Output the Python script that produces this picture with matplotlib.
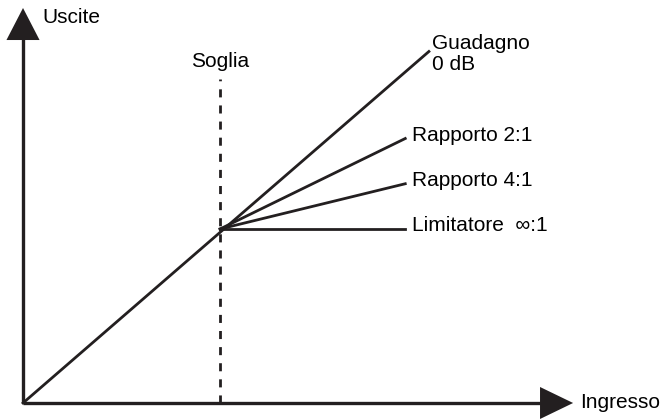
import matplotlib.pyplot as plt

plt.rcParams['font.family'] = ['Liberation Sans', 'DejaVu Sans']

# Curve data (input / output levels, arbitrary units)
threshold = 50
gain_end = (103, 101)
ratio_end_x = 97
ratio_names = ['Rapporto 2:1', 'Rapporto 4:1', 'Limitatore  \u221e:1']
ratio_end_y = [76, 63, 50]
x_axis_len = 139.6
y_axis_len = 113.5

ink = '#231f20'
fs = 15

fig = plt.figure(figsize=(6.61, 4.19), dpi=100)
ax = fig.add_axes([0, 0, 1, 1])
ax.set_xlim(-5.84, 161.9)
ax.set_ylim(-4.6, 115.8)
ax.axis('off')

# Axes with arrowheads
ax.plot([0, x_axis_len - 8], [0, 0], color=ink, lw=2.4, solid_capstyle='butt')
ax.plot([0, 0], [0, y_axis_len - 8], color=ink, lw=2.4, solid_capstyle='butt')
ax.fill([x_axis_len - 8.4, x_axis_len, x_axis_len - 8.4], [-4.6, 0, 4.6], color=ink, lw=0)
ax.fill([-4.2, 0, 4.2], [y_axis_len - 9.2, y_axis_len, y_axis_len - 9.2], color=ink, lw=0)

# Threshold
ax.plot([threshold, threshold], [0, 93], color=ink, lw=2.0, ls=(0, (2.9, 2.9)))

# Unity gain line
ax.plot([0, gain_end[0]], [0, gain_end[1]], color=ink, lw=2.0)

# Compression lines above threshold
for name, yend in zip(ratio_names, ratio_end_y):
    ax.plot([threshold, ratio_end_x], [threshold, yend], color=ink, lw=2.0)
    ax.text(ratio_end_x + 1.6, yend + 1, name, fontsize=fs, va='center', ha='left', color='black')

ax.text(gain_end[0] + 0.8, 106, 'Guadagno\n0 dB', fontsize=fs, va='top', ha='left',
        linespacing=1.15, color='black')
ax.text(threshold, 98, 'Soglia', fontsize=fs, va='center', ha='center', color='black')
ax.text(4.8, 110.9, 'Uscite', fontsize=fs, va='center', ha='left', color='black')
ax.text(141.4, 0, 'Ingresso', fontsize=fs, va='center', ha='left', color='black')

fig.savefig('out.png', dpi=100)
